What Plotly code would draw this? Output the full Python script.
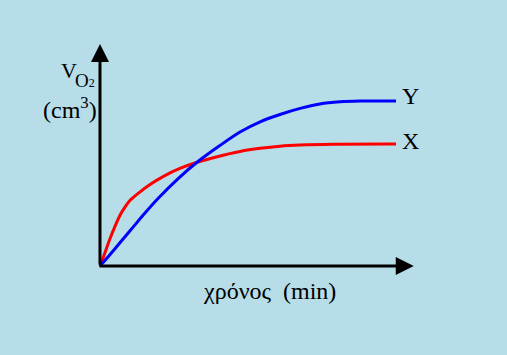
import plotly.graph_objects as go

# time (arbitrary units) and O2 volume (arbitrary units)
t_x = [0, 0.14, 0.34, 0.51, 0.68, 0.85, 1.01, 1.28, 1.69, 2.16, 2.70, 3.31, 3.99, 4.73, 5.41, 6.08, 6.76, 7.87, 10.0]
v_x = [0, 0.67, 1.67, 2.42, 3.09, 3.58, 3.97, 4.39, 4.94, 5.45, 5.91, 6.30, 6.64, 6.94, 7.13, 7.26, 7.33, 7.38, 7.39]

t_y = [0, 0.34, 0.68, 1.05, 1.52, 1.96, 2.64, 3.31, 4.05, 4.73, 5.41, 6.08, 6.76, 7.43, 8.11, 8.78, 10.0]
v_y = [0, 0.70, 1.42, 2.21, 3.21, 4.09, 5.30, 6.33, 7.30, 8.12, 8.74, 9.18, 9.55, 9.82, 9.95, 10.0, 10.0]

series_names = ["X", "Y"]
x_label = "χρόνος  (min)"
y_label_v = "V"
y_label_sub = "O<span style='font-size:12px'>2</span>"
y_label_unit = "(cm<sup>3</sup>)"

BG = "#B7DDE8"
FONT = "Liberation Serif"

fig = go.Figure()
fig.add_trace(go.Scatter(x=t_x, y=v_x, mode="lines",
                         line=dict(color="#FF0000", width=3, shape="spline", smoothing=0.8),
                         name=series_names[0], showlegend=False, hoverinfo="skip"))
fig.add_trace(go.Scatter(x=t_y, y=v_y, mode="lines",
                         line=dict(color="#0000FF", width=3, shape="spline", smoothing=0.8),
                         name=series_names[1], showlegend=False, hoverinfo="skip"))

# axes arrows
fig.add_annotation(x=10.6, y=0, ax=-0.07, ay=0, xref="x", yref="y", axref="x", ayref="y",
                   showarrow=True, arrowhead=2, arrowsize=1.2, arrowwidth=3, arrowcolor="black", text="")
fig.add_annotation(x=0, y=13.45, ax=0, ay=0, xref="x", yref="y", axref="x", ayref="y",
                   showarrow=True, arrowhead=2, arrowsize=1.2, arrowwidth=3, arrowcolor="black", text="")

# series labels
fig.add_annotation(x=10.15, y=10.3, text=series_names[1], showarrow=False, xanchor="left",
                   font=dict(family=FONT, size=24, color="black"))
fig.add_annotation(x=10.15, y=7.55, text=series_names[0], showarrow=False, xanchor="left",
                   font=dict(family=FONT, size=24, color="black"))

# axis labels
fig.add_annotation(x=5.71, y=-1.52, text=x_label, showarrow=False,
                   font=dict(family=FONT, size=24, color="black"))
fig.add_annotation(x=-1.05, y=11.85, text=y_label_v, showarrow=False,
                   font=dict(family=FONT, size=22, color="black"))
fig.add_annotation(x=-0.49, y=11.25, text=y_label_sub, showarrow=False,
                   font=dict(family=FONT, size=19, color="black"))
fig.add_annotation(x=-1.0, y=9.6, text=y_label_unit, showarrow=False,
                   font=dict(family=FONT, size=24, color="black"))

fig.update_layout(
    width=507, height=355,
    margin=dict(l=0, r=0, t=0, b=0),
    paper_bgcolor=BG, plot_bgcolor=BG,
    xaxis=dict(range=[-3.378, 13.75], visible=False, fixedrange=True),
    yaxis=dict(range=[-5.394, 16.12], visible=False, fixedrange=True),
)

fig.write_html("out.html")
